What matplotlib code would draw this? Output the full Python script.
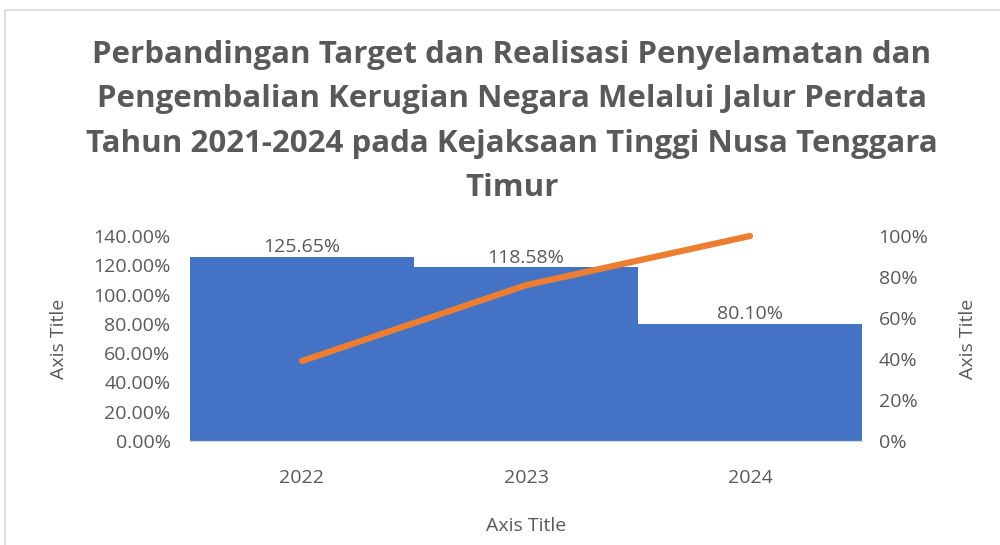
import matplotlib.pyplot as plt
from matplotlib.patches import Rectangle
from matplotlib.ticker import FuncFormatter

years = ["2022", "2023", "2024"]
realisasi = [125.65, 118.58, 80.10]
target_line = [39, 76, 100]

plt.rcParams['font.family'] = ['Open Sans', 'DejaVu Sans']
grey = "#595959"

fig = plt.figure(figsize=(10, 5.45), dpi=100)
fig.patches.append(Rectangle((0.005, -0.01), 1.2, 0.992, transform=fig.transFigure,
                             fill=False, edgecolor="#d9d9d9", linewidth=1.2))

ax = fig.add_axes([0.19, 0.191, 0.672, 0.376])
x = list(range(len(years)))
bars = ax.bar(x, realisasi, width=1.0, color="#4472c4")
ax.set_xlim(-0.5, 2.5)
ax.set_ylim(0, 140)
ax.set_yticks(range(0, 141, 20))
ax.yaxis.set_major_formatter(FuncFormatter(lambda v, p: f"{v:.2f}%"))
ax.set_xticks(x)
ax.set_xticklabels(years)
for b, v in zip(bars, realisasi):
    ax.text(b.get_x() + b.get_width() / 2, v + 0.5, f"{v:.2f}%", ha="center", va="bottom",
            fontsize=14, color=grey)

ax2 = ax.twinx()
ax2.plot(x, target_line, color="#ed7d31", linewidth=4.5, solid_capstyle="round",
         clip_on=False)
ax2.set_ylim(0, 100)
ax2.set_yticks(range(0, 101, 20))
ax2.yaxis.set_major_formatter(FuncFormatter(lambda v, p: f"{v:.0f}%"))

for a in (ax, ax2):
    for s in ("top", "left", "right"):
        a.spines[s].set_visible(False)
    a.spines["bottom"].set_color("#d9d9d9")
    a.tick_params(length=0, labelsize=14, colors=grey, pad=6)
ax.tick_params(axis="x", pad=20)
ax.tick_params(axis="y", pad=14)
ax2.tick_params(axis="y", pad=12)

ax.set_xlabel("Axis Title", fontsize=14, color=grey, labelpad=22)
ax.set_ylabel("Axis Title", fontsize=14, color=grey, labelpad=18)
ax2.set_ylabel("Axis Title", fontsize=14, color=grey, labelpad=22)

fig.text(0.512, 0.627,
         "Perbandingan Target dan Realisasi Penyelamatan dan\n"
         "Pengembalian Kerugian Negara Melalui Jalur Perdata\n"
         "Tahun 2021-2024 pada Kejaksaan Tinggi Nusa Tenggara\n"
         "Timur",
         ha="center", va="bottom", fontsize=22.5, fontweight="bold", color=grey,
         linespacing=1.63)

fig.savefig("out.png")
